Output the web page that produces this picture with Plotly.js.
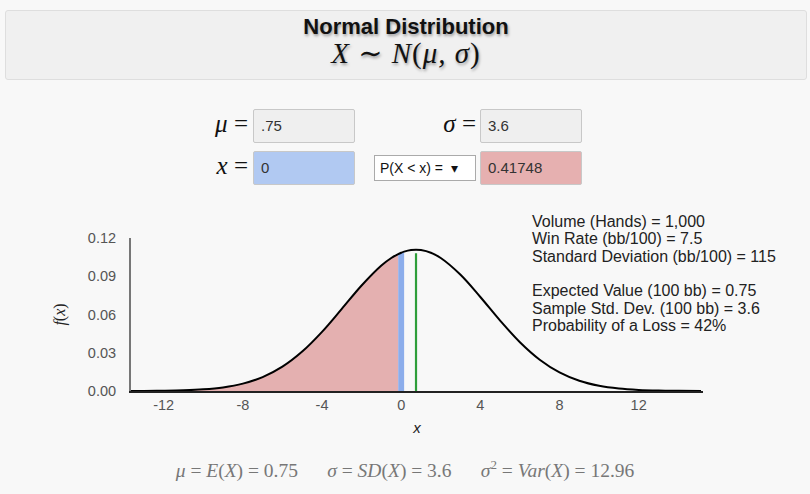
<!DOCTYPE html>
<html><head><meta charset="utf-8">
<script src="https://cdn.plot.ly/plotly-3.0.1.min.js"></script>
<style>
html,body{margin:0;padding:0;width:810px;height:494px;background:#f8f8f8;overflow:hidden;font-family:Arial,"Liberation Sans",sans-serif;}
#plot{position:absolute;left:0;top:0;width:810px;height:494px;}
.hdr{position:absolute;left:5px;top:10px;width:800px;height:68px;background:#f0f0f0;border:1px solid #dedede;border-radius:3px;}
.t1{position:absolute;left:0;width:100%;top:5px;text-align:center;font:bold 22px Arial,"Liberation Sans",sans-serif;line-height:22px;color:#111;text-shadow:1px 2px 3px rgba(0,0,0,0.35);}
.t2{position:absolute;left:0;width:100%;top:28px;text-align:center;font:italic 29px "Liberation Serif","DejaVu Serif",serif;line-height:29px;letter-spacing:1px;color:#111;text-shadow:1px 2px 3px rgba(0,0,0,0.35);}
.lbl{position:absolute;width:80px;text-align:right;font:italic 25px "Liberation Serif",serif;color:#111;}
.box{position:absolute;width:102px;height:34px;border:1px solid #c8c8c8;border-radius:2px;box-sizing:border-box;padding-left:7px;font:15px Arial,"Liberation Sans",sans-serif;line-height:32px;color:#333;}
.sel{position:absolute;left:374px;top:155px;width:102px;height:26px;background:#fff;border:1px solid #aaa;box-sizing:border-box;font:14px Arial,"Liberation Sans",sans-serif;line-height:24px;color:#111;padding-left:5px;}
.foot{position:absolute;left:0;width:810px;top:457px;text-align:center;font:19.5px "Liberation Serif",serif;color:#777;}
</style></head>
<body>
<div id="plot"></div>
<div class="hdr"><div class="t1">Normal Distribution</div><div class="t2">X <span style="font-style:normal">∼</span> N<span style="font-style:normal">(</span>μ, σ<span style="font-style:normal">)</span></div></div>
<div class="lbl" style="left:168px;top:110px;">μ <span style="font-style:normal">=</span></div>
<div class="lbl" style="left:396px;top:110px;">σ <span style="font-style:normal">=</span></div>
<div class="lbl" style="left:168px;top:152px;">x <span style="font-style:normal">=</span></div>
<div class="box" style="left:253px;top:109px;background:#efefef;">.75</div>
<div class="box" style="left:480px;top:109px;background:#efefef;">3.6</div>
<div class="box" style="left:253px;top:151px;background:#b1c9f2;">0</div>
<div class="sel">P(X &lt; x) = &nbsp;▾</div>
<div class="box" style="left:480px;top:151px;background:#e6b0b0;">0.41748</div>
<div class="foot"><i>μ</i> = <i>E</i>(<i>X</i>) = 0.75 &nbsp;&nbsp;&nbsp;&nbsp; <i>σ</i> = <i>SD</i>(<i>X</i>) = 3.6 &nbsp;&nbsp;&nbsp;&nbsp; <i>σ</i><sup style="font-size:13px">2</sup> = <i>Var</i>(<i>X</i>) = 12.96</div>
<script>
// Parameters shown in the chart
const MU = 0.75;
const X_CUT = 0;
const BAND_HALF = 0.15;
// Density curve points
const xs = [-13.65,-13,-12,-11,-10,-9,-8,-7,-6,-5,-4,-3,-2,-1,-0.5,-0.15,0,0.15,0.5,0.75,1,1.5,2,3,4,5,6,7,8,9,10,11,12,13,14,15.15];
const ys = [0.0000372,0.0000753,0.000210,0.000539,0.001284,0.002830,0.005778,0.010923,0.01911,0.03095,0.04641,0.06442,0.08278,0.09847,0.10433,0.10741,0.10844,0.10929,0.11055,0.11082,0.11055,0.10844,0.10433,0.09116,0.07373,0.05521,0.03827,0.02456,0.01458,0.00802,0.004083,0.001925,0.000840,0.000339,0.000127,0.0000372];
// Tick labels
const yTicks = [0, 0.03, 0.06, 0.09, 0.12];
const yTickText = ["0.00","0.03","0.06","0.09","0.12"];
const xTicks = [-12,-8,-4,0,4,8,12];
const xTickText = ["-12","-8","-4","0","4","8","12"];
// Info lines
const infoLines = ["Volume (Hands) = 1,000","Win Rate (bb/100) = 7.5","Standard Deviation (bb/100) = 115","","Expected Value (100 bb) = 0.75","Sample Std. Dev. (100 bb) = 3.6","Probability of a Loss = 42%"];

const redX=[],redY=[],blueX=[],blueY=[];
xs.forEach((x,i)=>{
  if (x <= X_CUT - BAND_HALF + 1e-9){redX.push(x);redY.push(ys[i]);}
  if (x >= X_CUT - BAND_HALF - 1e-9 && x <= X_CUT + BAND_HALF + 1e-9){blueX.push(x);blueY.push(ys[i]);}
});
const muTop = ys[xs.indexOf(MU)] * 0.975;

const traces = [
  {x:redX,y:redY,type:'scatter',mode:'lines',fill:'tozeroy',fillcolor:'#e4b0b0',line:{width:0,shape:'spline'},hoverinfo:'skip'},
  {x:blueX,y:blueY,type:'scatter',mode:'lines',fill:'tozeroy',fillcolor:'#8cadeb',line:{width:0,shape:'spline'},hoverinfo:'skip'},
  {x:[MU,MU],y:[0,muTop],type:'scatter',mode:'lines',line:{color:'#2e9e3a',width:2.2},hoverinfo:'skip'},
  {x:xs,y:ys,type:'scatter',mode:'lines',line:{color:'#000',width:2,shape:'spline'},hoverinfo:'skip'}
];
const annotations = infoLines.map((t,i)=>({
  text:t, xref:'paper', yref:'paper', x:(530-131)/572, y:1+(238-211-i*17.3)/153, xanchor:'left', yanchor:'top',
  showarrow:false, align:'left', font:{family:'Arial, Liberation Sans, sans-serif', size:16, color:'#222'}
}));
const tf = {family:'Arial, Liberation Sans, sans-serif',size:14.5,color:'#555'};
const layout = {
  width:810,height:494,
  margin:{l:131,r:107,t:238,b:103,pad:0},
  paper_bgcolor:'rgba(0,0,0,0)',plot_bgcolor:'rgba(0,0,0,0)',
  showlegend:false,
  xaxis:{range:[-13.65,15.25],showgrid:false,zeroline:false,showline:true,linecolor:'#222',linewidth:2,
    tickvals:xTicks,ticktext:xTickText,ticks:'',tickfont:tf,
    title:{text:'<i>x</i>',font:{family:'Arial, sans-serif',size:15,color:'#222'},standoff:10}},
  yaxis:{range:[0,0.12],showgrid:false,zeroline:false,showline:true,linecolor:'#777',linewidth:2,
    tickvals:yTicks,ticktext:yTickText,ticks:'',ticklabelstandoff:10,tickfont:tf,
    title:{text:'<i>f</i>(<i>x</i>)',font:{family:'Liberation Serif, serif',size:16,color:'#222'},standoff:18}},
  annotations:annotations
};
Plotly.newPlot('plot',traces,layout,{displayModeBar:false,staticPlot:true});
</script>
</body></html>
